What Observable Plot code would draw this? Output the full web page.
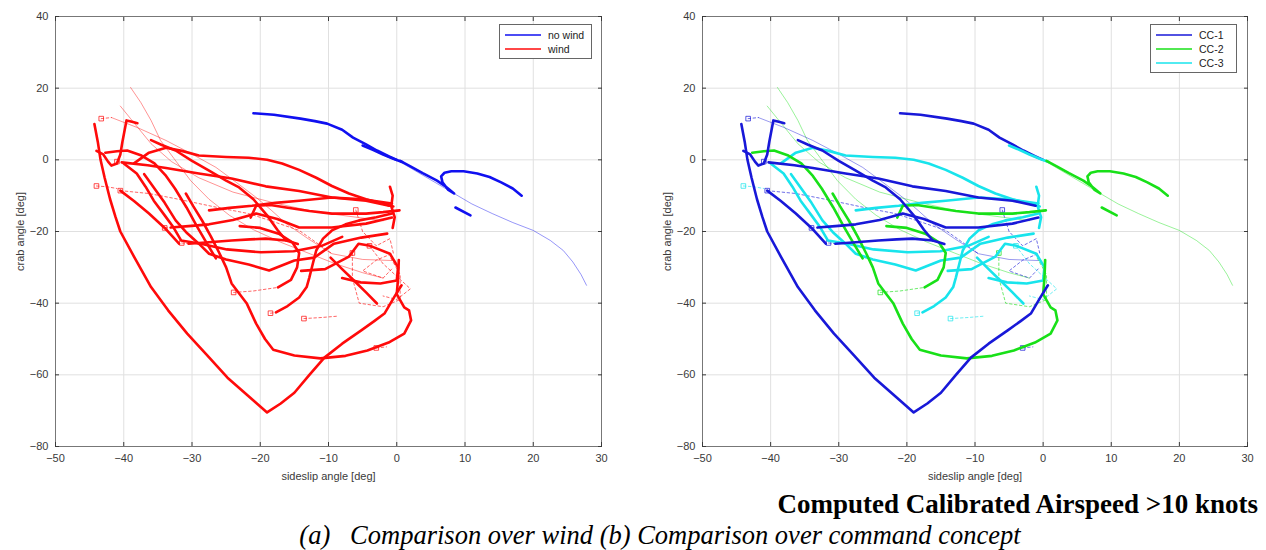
<!DOCTYPE html>
<html>
<head>
<meta charset="utf-8">
<script src="https://cdn.jsdelivr.net/npm/d3@7"></script>
<script src="https://cdn.jsdelivr.net/npm/@observablehq/plot@0.6"></script>
<style>
  body { margin: 0; background: #fff; }
  #page { position: relative; width: 1266px; height: 550px; overflow: hidden; }
  .panel { position: absolute; top: 0; width: 633px; height: 490px; }
  .legend { position: absolute; background: #fff; border: 1px solid #666; font: 10.5px "Liberation Sans", Arial, sans-serif; color: #222; padding: 3px 6px 3px 5px; box-sizing: border-box; }
  .legend .row { display: flex; align-items: center; height: 14px; }
  .legend svg { margin-right: 7px; }
  .caption-bold { position: absolute; right: 8px; top: 488px; font: bold 27px "Liberation Serif", "Times New Roman", serif; color: #000; white-space: nowrap; line-height: 32px; }
  .caption-ital { position: absolute; left: 0; width: 1320px; text-align: center; top: 519px; font: italic 26.5px "Liberation Serif", "Times New Roman", serif; color: #000; white-space: nowrap; line-height: 32px; }
</style>
</head>
<body>
<div id="page">
  <div class="panel" id="left" style="left:0"></div>
  <div class="panel" id="right" style="left:633px"></div>
  <div class="caption-bold">Computed Calibrated Airspeed &gt;10 knots</div>
  <div class="caption-ital">(a)&nbsp;&nbsp; Comparison over wind (b) Comparison over command concept</div>
</div>
<script>
// Axis ticks
const xTicks = [-50, -40, -30, -20, -10, 0, 10, 20, 30];
const yTicks = [-80, -60, -40, -20, 0, 20, 40];

// Legend categories
const windLabels = ["no wind", "wind"];
const conceptLabels = ["CC-1", "CC-2", "CC-3"];

// Sideslip / crab trajectories, [sideslip deg, crab deg]
const runA = [[-44.3,10],[-43.8,5],[-43.4,0],[-42.8,-5],[-42,-11],[-41.2,-16],[-40.5,-20],[-38.5,-27],[-36,-35.5],[-33.5,-42],[-30.7,-48.5],[-27.8,-54.5],[-24.8,-60.8],[-22,-65.5],[-19,-70.5],[-17,-68],[-15,-65],[-12.8,-60],[-10.6,-55.2],[-8,-51.3],[-5.2,-47.6],[-3.3,-45],[-1.8,-42.9],[-0.4,-38.4],[0.7,-35]];
const runB = [[-44,2.5],[-43,1.5],[-42.3,-0.5],[-41.8,-1.6],[-41,-1],[-40.5,1.5],[-40.2,5],[-39.6,11],[-38.8,10.6],[-38,10.2]];
const runC = [[-42.7,2],[-41,2.4],[-39.5,2.6],[-37.4,1.2],[-35.5,-1],[-33.8,-4.5],[-32.5,-8],[-30.8,-13.3],[-29.3,-18.5],[-27.8,-23.4],[-26.5,-27.5]];
const runD = [[-30.9,-9.4],[-29.8,-13],[-28.5,-17],[-27.2,-21.5],[-26,-26],[-25,-30],[-24.2,-34.5],[-22,-40],[-20.6,-45.7],[-19.3,-50],[-18.1,-53],[-15,-54.6],[-11.2,-55.4],[-7.5,-54.7],[-4.3,-53.2],[-1.2,-51],[1.1,-48.5],[2.1,-44.8],[1.8,-42],[1.1,-41.2],[0,-37.5],[0.2,-33],[0.3,-28]];
const runE = [[-40.5,-8.6],[-38.5,-11.5],[-36.3,-15],[-34,-19],[-31.9,-23.4]];
const runF = [[-33.1,-18.9],[-30.5,-18.5],[-27.5,-18],[-24,-16.8],[-20.6,-15],[-17.5,-16.5],[-14.3,-18.9],[-9.5,-18.9],[-4.5,-17.8],[-0.7,-16.1]];
const runG = [[-30.5,-23.4],[-27.5,-23],[-24.2,-22.5],[-21.5,-22.2],[-19.2,-22],[-16.2,-22.5],[-14.5,-23.5]];
const runH = [[-40.3,-0.7],[-36.5,-1.5],[-33.8,-2.3],[-29,-3.8],[-24.2,-5.2],[-19.2,-7.4],[-14.3,-8.7],[-9.5,-10.5],[-4.5,-11.4],[-1.1,-12.8]];
const runI = [[-36,5.5],[-34.5,4.2],[-32.4,2.6],[-30,-0.3],[-27.5,-3],[-25,-5.8],[-23.1,-7.7],[-21,-11],[-19,-15.5],[-17.5,-19.5],[-16.2,-22.5]];
const runK = [[-37,-4],[-35.5,-8],[-34,-12],[-32.4,-16.9],[-30.7,-20.5],[-29,-23.4],[-27.5,-26.2],[-25,-27.8],[-21.7,-29.2],[-18.7,-30.9],[-15,-28.1],[-12.1,-27.3],[-9.2,-23.4],[-5.2,-21.7],[-1.4,-20.6]];
const runL = [[-38.5,-1],[-36.3,2],[-33.8,3.4],[-31.5,2.5],[-29,1.2],[-25,0.8],[-21.7,0.6],[-19,0],[-16.8,-1],[-14.3,-2.8],[-11.8,-5],[-9.5,-7.3],[-7,-9.4],[-4.5,-11],[-2.1,-12.2],[-0.5,-13]];
const runM = [[-40,-1],[-38.1,-3.8],[-36.8,-7.5],[-35.6,-11.4],[-34,-15.5],[-32.7,-18.9],[-31.6,-22.5],[-28.7,-23.4],[-24.9,-25],[-19.9,-25.8],[-15.1,-25.5],[-11,-24],[-8,-21.5]];
const runN = [[-17.7,-42.6],[-16,-40.8],[-14.3,-38.4],[-13.2,-35.5],[-12.8,-32.8],[-12.3,-29],[-11.8,-25.3],[-10.8,-22],[-9.5,-19.7],[-7.5,-18],[-5.5,-16.9],[-3,-16],[-0.7,-15]];
const runO = [[-9.7,-27.3],[-8,-30.5],[-6.2,-33.8],[-4.5,-37],[-2.9,-40.1]];
const runP = [[-27.5,-14.1],[-24.5,-13.4],[-21.2,-12.8],[-17.8,-12],[-14.3,-11.4],[-9.5,-10.5],[-5,-11],[-0.7,-12.2]];
const runQ = [[-14,-31],[-10.5,-30.5],[-7,-27],[-5.6,-23.4],[-3.9,-24],[-1,-26.2],[0.2,-30],[0,-33.7],[-2.4,-34.5],[-5.3,-34.2],[-8,-33]];
const runR = [[-21.4,-16.1],[-20.6,-12.8],[-18.5,-12.6],[-16.2,-13.3],[-12.8,-14.3],[-9.5,-15],[-4.5,-15],[-2,-14.6],[0.4,-14.1]];
const runS = [[-17.4,-35.6],[-15.5,-33.5],[-14.6,-30],[-14.3,-26],[-15.3,-23],[-17.3,-20.6],[-20,-19],[-23,-18.5]];
const runT = [[-1,-7.5],[-0.6,-10],[-0.8,-13],[-0.3,-16],[-0.6,-19]];
const runL1 = [[-41.8,11.8],[-38,9],[-33.8,5.4],[-30,1.6],[-26.5,-2.1],[-23.5,-6.3],[-20.6,-10.5],[-18.3,-14.2],[-16.2,-17.8],[-13,-22],[-9.5,-26.2],[-5,-27.8],[-0.7,-28.1]];
const runL2 = [[-39,20.2],[-37.5,16],[-36,11],[-34.6,5.4],[-32.5,0],[-30.2,-5.8],[-27.5,-11],[-24.5,-15.5],[-21,-19.5],[-17,-23],[-13,-26],[-9,-29],[-5,-31.5],[-2,-33]];
const runL3 = [[-40.5,15],[-39,11.5],[-37.5,8],[-36,4.5],[-33,-0.5],[-29,-5],[-24,-9],[-18,-12],[-12,-14.5],[-6,-16],[-2,-17]];
const gap1 = [[-43.3,11.5],[-41.8,11.8]];
const gap2 = [[-41,-0.5],[-40.3,-0.7]];
const gap3 = [[-40.5,-8.6],[-36.3,-9.4],[-32.5,-10.8],[-29,-12.2],[-25.5,-13.6],[-21.7,-15],[-18,-17.3],[-14.3,-19.7],[-12,-22.8],[-9.5,-26.2]];
const gap4 = [[-23.9,-37],[-21,-36.6],[-17.4,-35.6]];
const gap5 = [[-44,-7.3],[-42.5,-7.5],[-41,-8]];
const gap6 = [[-13.6,-44.3],[-11,-44],[-8.5,-43.6]];
const gap7 = [[-34,-19],[-33.1,-18.9]];
const gap8 = [[-31.5,-23.2],[-30.5,-23.4]];
const gap9 = [[-6,-14],[-5,-20],[-3,-24],[-1,-22],[-0.5,-26],[-3,-28],[-5,-31],[-2,-33],[-0.5,-30]];
const gap10 = [[-6.5,-26],[-6.5,-33],[-5.5,-40],[-2,-41],[0.5,-39],[0.5,-32],[-1,-27]];
const gap11 = [[-4,-24],[-2,-29],[2,-36],[0,-39],[-2,-38]];
const gap12 = [[-3,-52.5],[-1.5,-52.2]];
const gap13 = [[-18.5,-42.8],[-17.7,-42.6]];
const calm1 = [[-21,13],[-18,12.6],[-14.1,11.5],[-12,10.8],[-10.2,10.1],[-8,8.4],[-6.4,6.2],[-4.5,4.3],[-2.9,2.6],[-1.2,1],[0,0]];
const calm2 = [[0.5,-0.3],[2,-1.8],[3.8,-3.7],[5.9,-5.8],[7.2,-7.5],[8.4,-9.4],[7.5,-8.3],[6.7,-6.3],[6.5,-4.6],[7,-3.6],[8,-3.2],[9.8,-3.2],[11.8,-3.8],[13.6,-4.8],[15.3,-6.3],[17,-8],[18.3,-10]];
const calm3 = [[-5,4],[-3.5,2.8],[-2,1.5],[-0.5,0.3],[0.8,-0.6]];
const calm4 = [[0,0],[4,-4.5],[8.4,-9.4],[11,-12.3],[14,-15],[17,-17.5],[20,-19.7],[22.5,-22.5],[24.4,-25.3],[25.8,-28.5],[27,-32],[27.8,-35]];
const calm5 = [[8.6,-13.3],[10.8,-15.5]];

// Flight runs: wind condition, command concept, airspeed state
const runs = [
  {pts: runL2, wind: "wind", concept: "CC-2", airspeed: "below"},
  {pts: runL3, wind: "wind", concept: "CC-2", airspeed: "below"},
  {pts: runL1, wind: "wind", concept: "CC-1", airspeed: "below"},
  {pts: calm4, wind: "no wind", concept: "CC-2", airspeed: "below"},
  {pts: gap1, wind: "wind", concept: "CC-1", airspeed: "dropout"},
  {pts: gap2, wind: "wind", concept: "CC-1", airspeed: "dropout"},
  {pts: gap3, wind: "wind", concept: "CC-1", airspeed: "dropout"},
  {pts: gap4, wind: "wind", concept: "CC-2", airspeed: "dropout"},
  {pts: gap5, wind: "wind", concept: "CC-3", airspeed: "dropout"},
  {pts: gap6, wind: "wind", concept: "CC-3", airspeed: "dropout"},
  {pts: gap7, wind: "wind", concept: "CC-1", airspeed: "dropout"},
  {pts: gap8, wind: "wind", concept: "CC-1", airspeed: "dropout"},
  {pts: gap9, wind: "wind", concept: "CC-1", airspeed: "dropout"},
  {pts: gap10, wind: "wind", concept: "CC-2", airspeed: "dropout"},
  {pts: gap11, wind: "wind", concept: "CC-3", airspeed: "dropout"},
  {pts: gap12, wind: "wind", concept: "CC-1", airspeed: "dropout"},
  {pts: gap13, wind: "wind", concept: "CC-3", airspeed: "dropout"},
  {pts: runL, wind: "wind", concept: "CC-3", airspeed: "above"},
  {pts: runK, wind: "wind", concept: "CC-3", airspeed: "above"},
  {pts: runM, wind: "wind", concept: "CC-3", airspeed: "above"},
  {pts: runP, wind: "wind", concept: "CC-3", airspeed: "above"},
  {pts: runN, wind: "wind", concept: "CC-3", airspeed: "above"},
  {pts: runO, wind: "wind", concept: "CC-3", airspeed: "above"},
  {pts: runQ, wind: "wind", concept: "CC-3", airspeed: "above"},
  {pts: runT, wind: "wind", concept: "CC-3", airspeed: "above"},
  {pts: runC, wind: "wind", concept: "CC-2", airspeed: "above"},
  {pts: runD, wind: "wind", concept: "CC-2", airspeed: "above"},
  {pts: runR, wind: "wind", concept: "CC-2", airspeed: "above"},
  {pts: runS, wind: "wind", concept: "CC-2", airspeed: "above"},
  {pts: runA, wind: "wind", concept: "CC-1", airspeed: "above"},
  {pts: runB, wind: "wind", concept: "CC-1", airspeed: "above"},
  {pts: runE, wind: "wind", concept: "CC-1", airspeed: "above"},
  {pts: runF, wind: "wind", concept: "CC-1", airspeed: "above"},
  {pts: runG, wind: "wind", concept: "CC-1", airspeed: "above"},
  {pts: runH, wind: "wind", concept: "CC-1", airspeed: "above"},
  {pts: runI, wind: "wind", concept: "CC-1", airspeed: "above"},
  {pts: calm1, wind: "no wind", concept: "CC-1", airspeed: "above"},
  {pts: calm3, wind: "no wind", concept: "CC-3", airspeed: "above"},
  {pts: calm2, wind: "no wind", concept: "CC-2", airspeed: "above"},
  {pts: calm5, wind: "no wind", concept: "CC-2", airspeed: "above"}
];

const rows = runs.flatMap((r, i) => r.pts.map(([x, y]) => ({run: i, x, y, wind: r.wind, concept: r.concept, airspeed: r.airspeed})));
const starts = runs.filter(r => r.airspeed === "dropout").map(r => ({x: r.pts[0][0], y: r.pts[0][1], wind: r.wind, concept: r.concept}));

const windColors = ["#1010f0", "#ff0a0a"];
const conceptColors = ["#1818d8", "#18e018", "#18e4ec"];

function panel(key, domain, range, marginLeft, marginRight) {
  const axisFont = {fontSize: 11};
  return Plot.plot({
    width: 633,
    height: 490,
    marginLeft, marginRight,
    marginTop: 16,
    marginBottom: 44,
    style: {fontFamily: "'Liberation Sans', Arial, sans-serif", fontSize: "11px", color: "#3a3a3a", background: "transparent"},
    x: {domain: [-50, 30]},
    y: {domain: [-80, 40]},
    color: {domain, range},
    marks: [
      Plot.gridX(xTicks, {stroke: "#e0e0e0", strokeOpacity: 1}),
      Plot.gridY(yTicks, {stroke: "#e0e0e0", strokeOpacity: 1}),
      Plot.line(rows.filter(d => d.airspeed === "below"), {x: "x", y: "y", z: "run", stroke: key, strokeWidth: 0.8, strokeOpacity: 0.55}),
      Plot.line(rows.filter(d => d.airspeed === "dropout"), {x: "x", y: "y", z: "run", stroke: key, strokeWidth: 0.9, strokeOpacity: 0.7, strokeDasharray: "2.5,2.5"}),
      Plot.dot(starts, {x: "x", y: "y", stroke: key, symbol: "square", r: 2.6, strokeWidth: 0.9, fill: "none", strokeOpacity: 0.8}),
      Plot.line(rows.filter(d => d.airspeed === "above"), {x: "x", y: "y", z: "run", stroke: key, strokeWidth: 2.6, strokeLinejoin: "round", strokeLinecap: "round"}),
      Plot.frame({stroke: "#777", strokeWidth: 1}),
      Plot.axisX(xTicks, {anchor: "bottom", tickSize: -4, tickPadding: 12, label: "sideslip angle [deg]", labelAnchor: "center", labelArrow: "none", labelOffset: 33, ...axisFont}),
      Plot.axisX(xTicks, {anchor: "top", tickSize: -4, tickFormat: () => "", label: null}),
      Plot.axisY(yTicks, {anchor: "left", tickSize: -4, tickPadding: 11, label: "crab angle [deg]", labelAnchor: "center", labelArrow: "none", labelOffset: 39, ...axisFont}),
      Plot.axisY(yTicks, {anchor: "right", tickSize: -4, tickFormat: () => "", label: null})
    ]
  });
}

function legend(labels, colors, style) {
  const box = document.createElement("div");
  box.className = "legend";
  Object.assign(box.style, style);
  labels.forEach((label, i) => {
    const row = document.createElement("div");
    row.className = "row";
    const sw = d3.create("svg").attr("width", 36).attr("height", 4);
    sw.append("line").attr("x1", 0).attr("x2", 36).attr("y1", 2).attr("y2", 2)
      .attr("stroke", colors[i]).attr("stroke-width", 1.3);
    const t = document.createElement("span");
    t.textContent = label;
    row.append(sw.node(), t);
    box.append(row);
  });
  return box;
}

const left = document.getElementById("left");
left.append(panel("wind", windLabels, windColors, 55, 32));
left.append(legend(windLabels, windColors, {left: "499px", top: "24px", width: "93px", height: "35px"}));

const right = document.getElementById("right");
right.append(panel("concept", conceptLabels, conceptColors, 69, 19));
right.append(legend(conceptLabels, conceptColors, {left: "517px", top: "24px", width: "87px", height: "49px"}));
</script>
</body>
</html>
